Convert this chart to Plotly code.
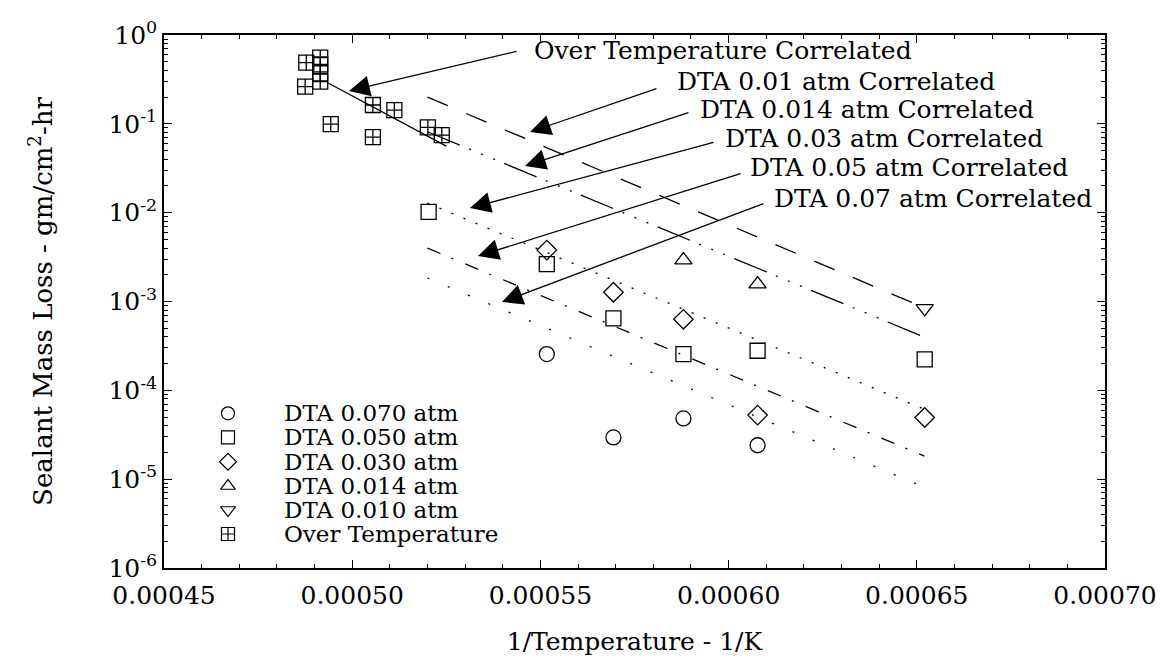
import plotly.graph_objects as go

# ---------------- data ----------------
x_070 = [0.0005517, 0.0005694, 0.000588, 0.0006077]
y_070 = [2.56e-4, 2.95e-5, 4.83e-5, 2.41e-5]

x_050 = [0.0005203, 0.0005517, 0.0005694, 0.000588, 0.0006077, 0.0006521]
y_050 = [1.02e-2, 2.64e-3, 6.45e-4, 2.56e-4, 2.79e-4, 2.23e-4]

x_030 = [0.0005517, 0.0005694, 0.000588, 0.0006077, 0.0006521]
y_030 = [3.79e-3, 1.27e-3, 6.3e-4, 5.26e-5, 4.95e-5]

x_014 = [0.000588, 0.0006077]
y_014 = [2.93e-3, 1.57e-3]

x_010 = [0.0006521]
y_010 = [8.36e-4]

x_ot = [0.0004878, 0.0004915, 0.0004915, 0.0004915, 0.0004915, 0.0004875,
        0.0004943, 0.0005055, 0.0005112, 0.0005055, 0.0005201, 0.0005238]
y_ot = [0.488, 0.555, 0.468, 0.37, 0.298, 0.262,
        0.0995, 0.163, 0.143, 0.071, 0.091, 0.0748]

# correlated lines (endpoints)
corr_ot_x = [0.0004936, 0.0005250]
corr_ot_y = [0.288, 0.0562]
corr_010_x = [0.000520, 0.000652]
corr_010_y = [0.200, 8.5e-4]
corr_014_x = [0.000520, 0.000652]
corr_014_y = [0.0815, 3.97e-4]
corr_030_x = [0.000520, 0.000652]
corr_030_y = [0.0128, 6.14e-5]
corr_050_x = [0.000520, 0.000652]
corr_050_y = [3.99e-3, 1.82e-5]
corr_070_x = [0.000520, 0.000652]
corr_070_y = [1.84e-3, 8.13e-6]

x_tickvals = [0.00045, 0.00050, 0.00055, 0.00060, 0.00065, 0.00070]
x_ticktext = ["0.00045", "0.00050", "0.00055", "0.00060", "0.00065", "0.00070"]
y_tickvals = [1e-6, 1e-5, 1e-4, 1e-3, 1e-2, 1e-1, 1e0]
y_ticktext = ["10<sup>-6</sup>", "10<sup>-5</sup>", "10<sup>-4</sup>", "10<sup>-3</sup>",
              "10<sup>-2</sup>", "10<sup>-1</sup>", "10<sup>0</sup>"]

# arrow call-outs (x in data units, y as log10 of data units)
labels = ["Over Temperature Correlated", "DTA 0.01 atm Correlated",
          "DTA 0.014 atm Correlated", "DTA 0.03 atm Correlated",
          "DTA 0.05 atm Correlated", "DTA 0.07 atm Correlated"]
label_x = [0.0005478, 0.0005858, 0.0005919, 0.0005985, 0.0006052, 0.0006115]
label_logy = [-0.169, -0.529, -0.833, -1.160, -1.497, -1.835]
tail_x = [0.00054405, 0.00058124, 0.00058974, 0.00059638, 0.00060356, 0.00060967]
tail_logy = [-0.180, -0.597, -0.867, -1.205, -1.554, -1.891]
tip_x = [0.00049915, 0.00054724, 0.00054591, 0.0005313, 0.00053342, 0.0005398]
tip_logy = [-0.630, -1.092, -1.475, -1.948, -2.488, -3.006]

# legend (key) rows
legend_symbols = ["circle-open", "square-open", "diamond-open",
                  "triangle-up-open", "triangle-down-open", "square-cross-open"]
legend_names = ["DTA 0.070 atm", "DTA 0.050 atm", "DTA 0.030 atm",
                "DTA 0.014 atm", "DTA 0.010 atm", "Over Temperature"]
legend_row_y = [0.2902, 0.2452, 0.1994, 0.1538, 0.1088, 0.0638]
legend_marker_x = 0.068
legend_text_x = 0.1254

FONT = "DejaVu Serif"
BLACK = "black"

fig = go.Figure()

def add_line(xs, ys, dash):
    fig.add_trace(go.Scatter(x=xs, y=ys, mode="lines", showlegend=False,
                             line=dict(color=BLACK, width=1.3, dash=dash),
                             hoverinfo="skip"))

add_line(corr_ot_x, corr_ot_y, "solid")
add_line(corr_010_x, corr_010_y, "22px,20px")
add_line(corr_014_x, corr_014_y, "35px,10px,2px,11px,2px,11px,2px,10px")
add_line(corr_030_x, corr_030_y, "2px,11px")
add_line(corr_050_x, corr_050_y, "14px,12px,2px,13px")
add_line(corr_070_x, corr_070_y, "2px,20px")

def add_pts(xs, ys, sym, name, size=15):
    fig.add_trace(go.Scatter(x=xs, y=ys, mode="markers", name=name, showlegend=False,
                             marker=dict(symbol=sym, size=size, color=BLACK,
                                         line=dict(color=BLACK, width=1.3))))

add_pts(x_070, y_070, "circle-open", "DTA 0.070 atm")
add_pts(x_050, y_050, "square-open", "DTA 0.050 atm")
add_pts(x_030, y_030, "diamond-open", "DTA 0.030 atm")
add_pts(x_014, y_014, "triangle-up-open", "DTA 0.014 atm")
add_pts(x_010, y_010, "triangle-down-open", "DTA 0.010 atm")
add_pts(x_ot, y_ot, "square-cross-open", "Over Temperature")

# key markers on a hidden 0..1 overlay frame
fig.add_trace(go.Scatter(x=[legend_marker_x] * len(legend_symbols), y=legend_row_y,
                         mode="markers", xaxis="x2", yaxis="y2", showlegend=False,
                         hoverinfo="skip",
                         marker=dict(symbol=legend_symbols, size=13, color=BLACK,
                                     line=dict(color=BLACK, width=1.2))))

for n, yy in zip(legend_names, legend_row_y):
    fig.add_annotation(x=legend_text_x, y=yy, xref="paper", yref="paper", text=n,
                       showarrow=False, xanchor="left", yanchor="middle",
                       font=dict(family=FONT, size=23, color=BLACK))

for i, t in enumerate(labels):
    fig.add_annotation(x=label_x[i], y=label_logy[i], text=t,
                       showarrow=False, xanchor="left", yanchor="middle",
                       font=dict(family=FONT, size=25, color=BLACK))
    fig.add_annotation(x=tip_x[i], y=tip_logy[i],
                       ax=tail_x[i], ay=tail_logy[i],
                       axref="x", ayref="y", xref="x", yref="y",
                       text="", showarrow=True, arrowhead=2, arrowsize=3.2,
                       arrowwidth=1.3, arrowcolor=BLACK, standoff=0)

fig.update_layout(
    width=1175, height=662, template=None,
    paper_bgcolor="white", plot_bgcolor="white",
    margin=dict(l=164, r=70, t=35, b=94),
    showlegend=False,
    xaxis=dict(range=[0.00045, 0.00070], tickvals=x_tickvals, ticktext=x_ticktext,
               ticks="inside", ticklen=8, tickwidth=1.2, tickcolor=BLACK,
               ticklabelstandoff=4,
               minor=dict(dtick=0.00001, ticks="inside", ticklen=4, tickcolor=BLACK),
               showline=True, linecolor=BLACK, linewidth=1.5, mirror="ticks",
               showgrid=False, zeroline=False,
               tickfont=dict(family=FONT, size=25, color=BLACK),
               title=dict(text="1/Temperature - 1/K",
                          font=dict(family=FONT, size=25, color=BLACK), standoff=24)),
    yaxis=dict(type="log", range=[-6, 0], tickvals=y_tickvals, ticktext=y_ticktext,
               ticks="inside", ticklen=8, tickwidth=1.2, tickcolor=BLACK,
               minor=dict(dtick="D1", ticks="inside", ticklen=4, tickcolor=BLACK),
               showline=True, linecolor=BLACK, linewidth=1.5, mirror="ticks",
               showgrid=False, zeroline=False,
               tickfont=dict(family=FONT, size=25, color=BLACK),
               title=dict(text="Sealant Mass Loss - gm/cm<sup>2</sup>-hr",
                          font=dict(family=FONT, size=26, color=BLACK), standoff=48)),
    xaxis2=dict(overlaying="x", range=[0, 1], visible=False,
                fixedrange=True, anchor="y2"),
    yaxis2=dict(overlaying="y", range=[0, 1], visible=False,
                fixedrange=True, anchor="x2"),
)

fig.write_html("out.html")
